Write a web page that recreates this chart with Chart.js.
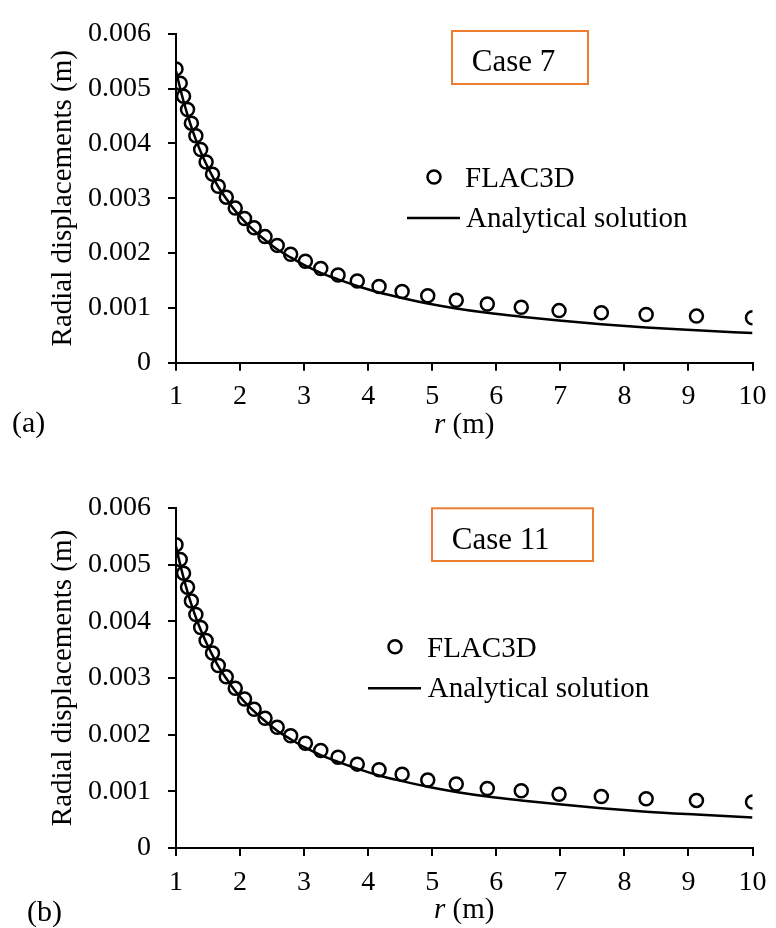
<!DOCTYPE html>
<html>
<head>
<meta charset="utf-8">
<title>Radial displacements</title>
<script src="https://cdn.jsdelivr.net/npm/chart.js@4.4.1/dist/chart.umd.min.js"></script>
<style>
  html, body { margin: 0; padding: 0; background: #ffffff; }
  body { width: 776px; height: 928px; position: relative; overflow: hidden; }
  canvas { position: absolute; left: 0; display: block; }
</style>
</head>
<body>
<canvas id="chartA" width="776" height="440" style="top:0px"></canvas>
<canvas id="chartB" width="776" height="464" style="top:464px"></canvas>
<script>
// Radial positions of the FLAC3D grid points (m)
const radius = [1.00, 1.066, 1.118, 1.18, 1.24, 1.31, 1.385, 1.47, 1.57, 1.66, 1.785, 1.925,
                2.07, 2.22, 2.39, 2.58, 2.79, 3.02, 3.26, 3.53, 3.83, 4.17, 4.53, 4.93,
                5.375, 5.86, 6.39, 6.98, 7.64, 8.34, 9.125, 10.0];

// Case 7 – radial displacement (m)
const flacCase7 = [0.00536, 0.00510, 0.00486, 0.00462, 0.00437, 0.00414, 0.00389, 0.00366,
                   0.00344, 0.00322, 0.00302, 0.00282, 0.00263, 0.00246, 0.00230, 0.00214,
                   0.00198, 0.00185, 0.00172, 0.00160, 0.00149, 0.00139, 0.00130, 0.00122,
                   0.00114, 0.00107, 0.00101, 0.00095, 0.00091, 0.00088, 0.00085, 0.00082];
const analyticalCase7 = [0.00532, 0.00500, 0.00477, 0.00452, 0.00430, 0.00407, 0.00385, 0.00363,
                         0.00340, 0.00321, 0.00299, 0.00277, 0.00258, 0.00241, 0.00224, 0.00207,
                         0.00192, 0.00177, 0.00164, 0.00152, 0.00140, 0.00128, 0.00118, 0.00108,
                         0.00099, 0.00091, 0.00084, 0.00077, 0.00070, 0.00064, 0.00059, 0.00054];

// Case 11 – radial displacement (m)
const flacCase11 = [0.00535, 0.00509, 0.00485, 0.00460, 0.00436, 0.00412, 0.00389, 0.00366,
                    0.00344, 0.00322, 0.00302, 0.00282, 0.00263, 0.00245, 0.00229, 0.00213,
                    0.00198, 0.00185, 0.00172, 0.00160, 0.00148, 0.00138, 0.00130, 0.00120,
                    0.00113, 0.00105, 0.00101, 0.00095, 0.00091, 0.00087, 0.00084, 0.00081];
const analyticalCase11 = [0.00532, 0.00500, 0.00477, 0.00452, 0.00430, 0.00407, 0.00385, 0.00363,
                          0.00340, 0.00321, 0.00299, 0.00277, 0.00258, 0.00241, 0.00224, 0.00207,
                          0.00192, 0.00177, 0.00164, 0.00152, 0.00140, 0.00128, 0.00118, 0.00108,
                          0.00099, 0.00091, 0.00084, 0.00077, 0.00070, 0.00064, 0.00059, 0.00054];

// Axis ticks
const xTicks = [1, 2, 3, 4, 5, 6, 7, 8, 9, 10];
const yTicks = [0, 0.001, 0.002, 0.003, 0.004, 0.005, 0.006];
const yTickLabels = ['0', '0.001', '0.002', '0.003', '0.004', '0.005', '0.006'];

const SERIF = '"Liberation Serif", "Times New Roman", Times, serif';
Chart.defaults.font.family = SERIF;
Chart.defaults.color = '#000';

function toPoints(xs, ys) {
  return xs.map((x, i) => ({ x: x, y: ys[i] }));
}

// Legend, case box, x-axis title and panel tag drawn on top of each chart
function decorations(d) {
  return {
    id: 'decor',
    afterDraw(chart) {
      const ctx = chart.ctx;
      const area = chart.chartArea;
      ctx.save();

      // case label box
      ctx.strokeStyle = '#ED7D31';
      ctx.lineWidth = 2;
      ctx.strokeRect(d.box.x, d.box.y, d.box.w, d.box.h);
      ctx.fillStyle = '#000';
      ctx.font = '31px ' + SERIF;
      ctx.textBaseline = 'alphabetic';
      ctx.textAlign = 'left';
      ctx.fillText(d.box.text, d.box.tx, d.box.ty);

      // legend
      const ds0 = chart.data.datasets[0];
      const ds1 = chart.data.datasets[1];
      ctx.beginPath();
      ctx.lineWidth = ds0.borderWidth;
      ctx.strokeStyle = ds0.borderColor;
      ctx.arc(d.legend.mx, d.legend.my, ds0.pointRadius, 0, Math.PI * 2);
      ctx.stroke();
      ctx.font = '29px ' + SERIF;
      ctx.fillText(ds0.label, d.legend.t1x, d.legend.t1y);

      ctx.beginPath();
      ctx.lineWidth = ds1.borderWidth;
      ctx.strokeStyle = ds1.borderColor;
      ctx.moveTo(d.legend.lx1, d.legend.ly);
      ctx.lineTo(d.legend.lx2, d.legend.ly);
      ctx.stroke();
      ctx.fillText(ds1.label, d.legend.t2x, d.legend.t2y);

      // x-axis title: italic r followed by upright unit
      const cx = (area.left + area.right) / 2;
      ctx.font = 'italic 29px ' + SERIF;
      const wR = ctx.measureText('r').width;
      ctx.font = '29px ' + SERIF;
      const wU = ctx.measureText(' (m)').width;
      const start = cx - (wR + wU) / 2;
      ctx.font = 'italic 29px ' + SERIF;
      ctx.fillText('r', start, d.xTitleY);
      ctx.font = '29px ' + SERIF;
      ctx.fillText(' (m)', start + wR, d.xTitleY);

      // panel tag
      ctx.font = '30px ' + SERIF;
      ctx.fillText(d.tag, d.tagX, d.tagY);

      ctx.restore();
    }
  };
}

function makeChart(id, flac, analytical, layout, decor) {
  const canvas = document.getElementById(id);
  return new Chart(canvas, {
    type: 'line',
    data: {
      datasets: [
        {
          label: 'FLAC3D',
          data: toPoints(radius, flac),
          showLine: false,
          pointStyle: 'circle',
          pointRadius: 6.5,
          pointHoverRadius: 6.5,
          borderWidth: 2.5,
          borderColor: '#000',
          backgroundColor: 'rgba(0,0,0,0)',
          pointBackgroundColor: 'rgba(0,0,0,0)',
          order: 1
        },
        {
          label: 'Analytical solution',
          data: toPoints(radius, analytical),
          showLine: true,
          pointRadius: 0,
          borderWidth: 2.5,
          borderColor: '#000',
          backgroundColor: '#000',
          cubicInterpolationMode: 'monotone',
          fill: false,
          order: 2
        }
      ]
    },
    options: {
      responsive: false,
      animation: false,
      events: [],
      layout: { padding: { top: layout.top, right: 16, bottom: 0, left: 0 } },
      plugins: {
        legend: { display: false },
        title: { display: false },
        tooltip: { enabled: false }
      },
      scales: {
        x: {
          type: 'linear',
          min: 1,
          max: 10,
          afterBuildTicks(scale) { scale.ticks = xTicks.map(v => ({ value: v })); },
          afterFit(scale) { scale.height = layout.xHeight; },
          ticks: {
            font: { size: 28 },
            color: '#000',
            padding: 9.5,
            maxRotation: 0,
            autoSkip: false,
            callback: (v) => String(v)
          },
          grid: {
            drawOnChartArea: false,
            drawTicks: true,
            tickLength: 8,
            color: '#000',
            lineWidth: 2
          },
          border: { display: true, color: '#000', width: 2 }
        },
        y: {
          type: 'linear',
          min: 0,
          max: 0.006,
          afterBuildTicks(scale) { scale.ticks = yTicks.map(v => ({ value: v })); },
          afterFit(scale) { scale.width = 176; },
          ticks: {
            font: { size: 28 },
            color: '#000',
            padding: 17,
            autoSkip: false,
            callback: (v, i) => yTickLabels[i]
          },
          grid: {
            drawOnChartArea: false,
            drawTicks: true,
            tickLength: 8,
            color: '#000',
            lineWidth: 2
          },
          border: { display: true, color: '#000', width: 2 },
          title: {
            display: true,
            text: 'Radial displacements (m)',
            color: '#000',
            font: { size: 29 },
            padding: { top: 46, bottom: 0 }
          }
        }
      }
    },
    plugins: [decorations(decor)]
  });
}

makeChart('chartA', flacCase7, analyticalCase7,
  { top: 22.7, xHeight: 440 - 362.7 },
  {
    box: { x: 452, y: 31, w: 136, h: 53, text: 'Case 7', tx: 471.7, ty: 71 },
    legend: { mx: 434, my: 177, t1x: 465, t1y: 187, lx1: 407, lx2: 460, ly: 218, t2x: 466, t2y: 227 },
    xTitleY: 433,
    tag: '(a)', tagX: 12, tagY: 432
  });

makeChart('chartB', flacCase11, analyticalCase11,
  { top: 44, xHeight: 464 - 384 },
  {
    box: { x: 432, y: 44.3, w: 161, h: 52.7, text: 'Case 11', tx: 451.7, ty: 85.3 },
    legend: { mx: 395, my: 182.7, t1x: 427, t1y: 192.7, lx1: 368, lx2: 421, ly: 224.3, t2x: 427.7, t2y: 232.7 },
    xTitleY: 454,
    tag: '(b)', tagX: 27, tagY: 457
  });
</script>
</body>
</html>
